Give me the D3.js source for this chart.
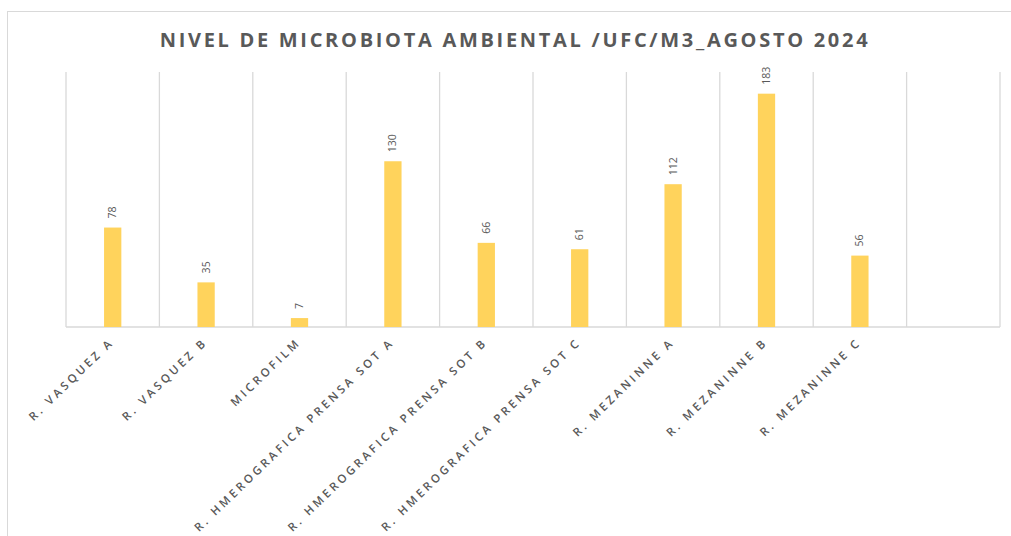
<!DOCTYPE html>
<html><head><meta charset="utf-8">
<script src="https://cdn.jsdelivr.net/npm/d3@7"></script>
<style>body{margin:0;background:#fff}svg{display:block}</style>
</head><body>
<svg id="c" width="1011" height="536"></svg>
<script>
const title = "NIVEL DE MICROBIOTA AMBIENTAL /UFC/M3_AGOSTO 2024";
const categories = ["R.  VASQUEZ A","R.  VASQUEZ B","MICROFILM","R. HMEROGRAFICA PRENSA SOT A","R. HMEROGRAFICA PRENSA SOT B","R. HMEROGRAFICA PRENSA SOT C","R.  MEZANINNE  A","R.  MEZANINNE  B","R.  MEZANINNE  C",""];
const values = [78,35,7,130,66,61,112,183,56,null];
const yDomain = [0,200];

const svg = d3.select("#c");
const W=1011,H=536;
const m = {left:66,right:11,top:72,bottom:209};
const grid = "#d9d9d9", txt = "#595959", barColor = "#FFD35C";

svg.append("rect").attr("x",7.5).attr("y",11.5).attr("width",W).attr("height",H)
  .attr("fill","#fff").attr("stroke","#d9d9d9");

const x = d3.scaleBand().domain(d3.range(categories.length)).range([m.left,W-m.right]).padding(0);
const y = d3.scaleLinear().domain(yDomain).range([H-m.bottom,m.top]);

const bounds = d3.range(categories.length+1).map(i => i===categories.length ? x.range()[1] : x(i));
svg.append("g").selectAll("line").data(bounds).join("line")
  .attr("x1",d=>d).attr("x2",d=>d).attr("y1",y(yDomain[1])).attr("y2",y(0))
  .attr("stroke",grid).attr("stroke-width",1.3);
svg.append("line").attr("x1",x.range()[0]).attr("x2",x.range()[1]).attr("y1",y(0)).attr("y2",y(0))
  .attr("stroke",grid).attr("stroke-width",1.3);

const bw = x.bandwidth()*0.185;
const data = values.map((v,i)=>({i,v})).filter(d=>d.v!=null);
svg.append("g").selectAll("rect").data(data).join("rect")
  .attr("x",d=>x(d.i)+x.bandwidth()/2-bw/2).attr("width",bw)
  .attr("y",d=>y(d.v)).attr("height",d=>y(0)-y(d.v)).attr("fill",barColor);

svg.append("g").selectAll("text").data(data).join("text")
  .attr("transform",d=>`translate(${x(d.i)+x.bandwidth()/2+3.5},${y(d.v)-9}) rotate(-90)`)
  .attr("text-anchor","start").attr("font-family","'Open Sans',sans-serif").attr("font-size",10.5)
  .attr("fill",txt).text(d=>d.v);

svg.append("g").selectAll("text").data(categories.map((c,i)=>({c,i})).filter(d=>d.c)).join("text")
  .attr("transform",d=>`translate(${x(d.i)+x.bandwidth()/2+2},${y(0)+16}) rotate(-44)`)
  .attr("text-anchor","end").attr("font-family","'Open Sans',sans-serif").attr("font-size",11.5)
  .attr("letter-spacing","3.1px").attr("font-weight",600)
  .attr("fill",txt).text(d=>d.c);

svg.append("text").attr("x",515).attr("y",47).attr("text-anchor","middle")
  .attr("font-family","'Open Sans',sans-serif").attr("font-size",20).attr("font-weight",700)
  .attr("letter-spacing","2.7px").attr("fill",txt).text(title);
</script>
</body></html>
